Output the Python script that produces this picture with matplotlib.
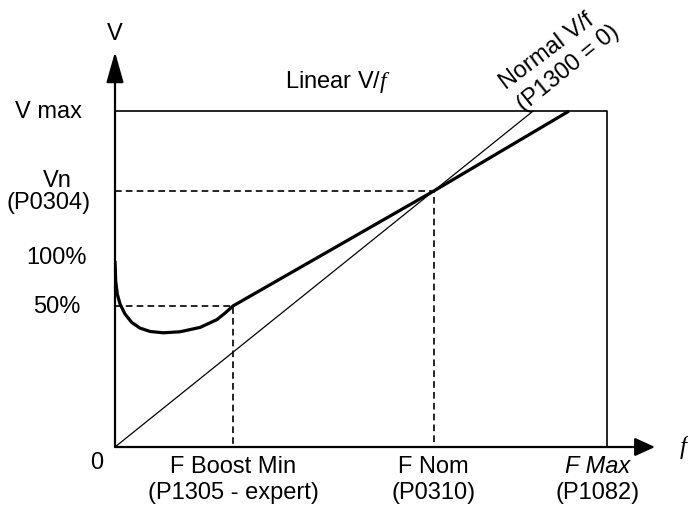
import numpy as np
import matplotlib.pyplot as plt

plt.rcParams['font.family'] = ['Liberation Sans', 'DejaVu Sans']
plt.rcParams['mathtext.fontset'] = 'custom'
plt.rcParams['mathtext.it'] = 'Liberation Serif:italic'
plt.rcParams['mathtext.rm'] = 'Liberation Sans'

# axis levels (V max = 100 %, F max = 100 %)
v_max = 100
v_nom = 76.2
v_boost = 42
f_boost = 24
f_nom = 64.8
f_max = 100

# linear V/f with boost
boost_f = [0, 0.14, 0.47, 1.02, 2.03, 3.39, 5.08, 7.11, 9.82, 13.2, 17.3, 20.7, 22.4, 24, 64.8, 92.3]
boost_v = [55.4, 49.5, 45.5, 42.6, 39.6, 37.1, 35.4, 34.4, 34.0, 34.3, 35.6, 37.9, 39.9, 42, 76.2, 100]

# normal V/f line
normal_f = [0, 85.0]
normal_v = [0, 100]

fig = plt.figure(figsize=(6.88, 5.10), dpi=100)
ax = fig.add_axes([115 / 688, 62 / 510, 540 / 688, 395 / 510])
ax.set_xlim(0, 109.8)
ax.set_ylim(0, 117.6)
ax.axis('off')

fs = 17

# axes arrows
ax.annotate('', xy=(109.8, 0), xytext=(0, 0), annotation_clip=False,
            arrowprops=dict(arrowstyle='-|>,head_length=0.88,head_width=0.4', color='k', lw=1.6,
                            shrinkA=0, shrinkB=0, mutation_scale=14))
ax.annotate('', xy=(0, 117.6), xytext=(0, 0), annotation_clip=False,
            arrowprops=dict(arrowstyle='-|>,head_length=1.34,head_width=0.38', color='k', lw=1.6,
                            shrinkA=0, shrinkB=0, mutation_scale=14))

# box
ax.plot([0, f_max, f_max], [v_max, v_max, 0], color='k', lw=1.2, clip_on=False)

# dashed guides
ax.plot([0, f_nom, f_nom], [v_nom, v_nom, 0], color='k', lw=1.2, ls=(0, (4, 2.5)))
ax.plot([0, f_boost, f_boost], [v_boost, v_boost, 0], color='k', lw=1.2, ls=(0, (4, 2.5)))

ax.plot(normal_f, normal_v, color='k', lw=0.9)
ax.plot(boost_f, boost_v, color='k', lw=2.3, solid_joinstyle='round', solid_capstyle='butt')

# labels
ax.text(0, 123.2, 'V', fontsize=fs, ha='center', va='center')
ax.text(-13.6, 100, 'V max', fontsize=fs, ha='center', va='center')
ax.text(-11.8, 79.5, 'Vn', fontsize=fs, ha='center', va='center')
ax.text(-13.6, 72.9, '(P0304)', fontsize=fs, ha='center', va='center')
ax.text(-11.8, 56.5, '100%', fontsize=fs, ha='center', va='center')
ax.text(-11.8, 42.0, '50%', fontsize=fs, ha='center', va='center')
ax.text(-3.7, -4.5, '0', fontsize=fs, ha='center', va='center')

ax.text(f_boost, -5.65, 'F Boost Min', fontsize=fs, ha='center', va='center')
ax.text(f_boost, -13.4, '(P1305 - expert)', fontsize=fs, ha='center', va='center')
ax.text(f_nom, -5.65, 'F Nom', fontsize=fs, ha='center', va='center')
ax.text(f_nom, -13.4, '(P0310)', fontsize=fs, ha='center', va='center')
ax.text(98.2, -5.65, 'F Max', fontsize=fs, ha='center', va='center', style='italic')
ax.text(98.2, -13.4, '(P1082)', fontsize=fs, ha='center', va='center')
ax.text(114.8, 0, 'f', fontsize=fs + 1, ha='left', va='center', family='Liberation Serif', style='italic')

ax.text(34.6, 108.9, 'Linear V/$f$', fontsize=fs, ha='left', va='center')
ax.text(87.8, 117.9, 'Normal V/f', fontsize=fs, ha='center', va='center',
        rotation=37, rotation_mode='anchor')
ax.text(92.1, 113.1, '(P1300 = 0)', fontsize=fs, ha='center', va='center',
        rotation=39, rotation_mode='anchor')

fig.savefig('out.png', dpi=100)
